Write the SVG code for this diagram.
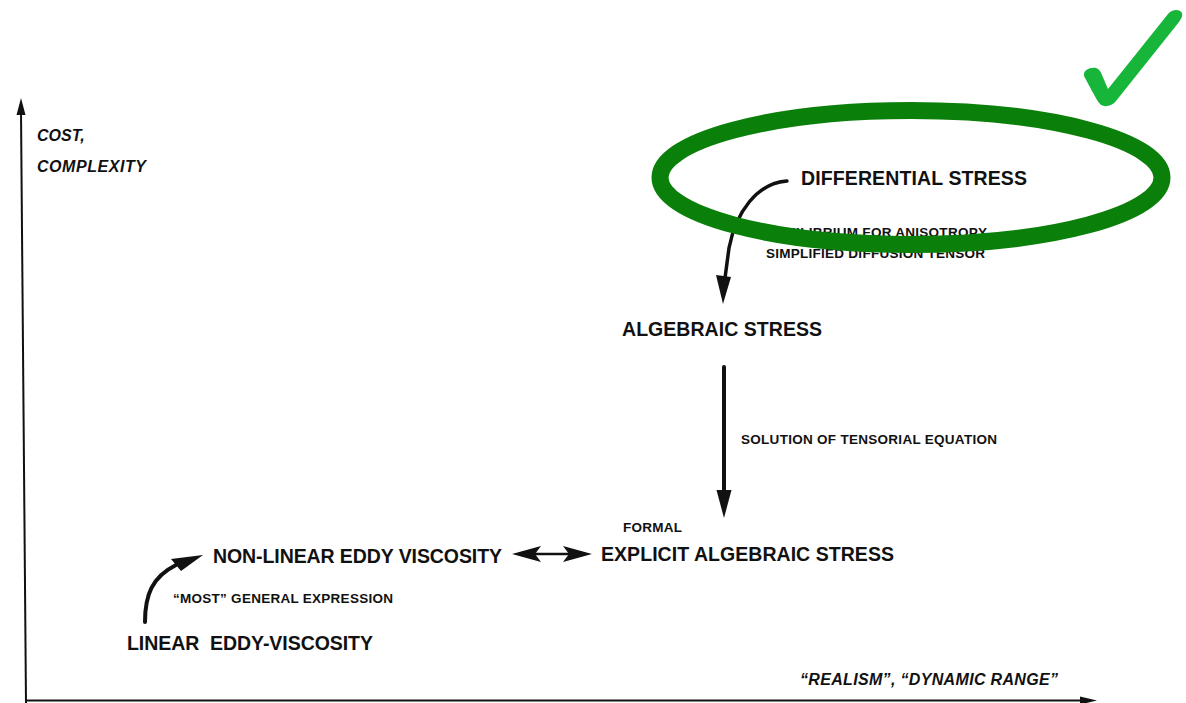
<svg xmlns="http://www.w3.org/2000/svg" width="1186" height="703" viewBox="0 0 1186 703">
  <style>
    .node { font-family: "Liberation Sans", Arial, sans-serif; font-weight: bold; font-size: 19.5px; fill: #111; }
    .note { font-family: "Liberation Sans", Arial, sans-serif; font-weight: bold; font-size: 13.5px; fill: #111; }
    .axis-label { font-family: "Liberation Sans", Arial, sans-serif; font-weight: bold; font-style: italic; font-size: 16px; fill: #111; }
    .axis { stroke: #111; stroke-width: 2; fill: none; }
    .conn { stroke: #111; fill: none; stroke-linecap: round; }
    .head { fill: #111; }
  </style>

  <rect width="1186" height="703" fill="#fff"/>

  <!-- axes -->
  <g id="axes">
    <line class="axis" x1="26" y1="703" x2="21" y2="112"/>
    <polygon class="head" points="21,98 16.5,115 25.5,115"/>
    <line class="axis" x1="26" y1="700.5" x2="1082" y2="700.5"/>
    <polygon class="head" points="1097,700.5 1080,696.5 1080,704.5"/>
    <text class="axis-label" x="37" y="141">COST,</text>
    <text class="axis-label" x="37" y="172" textLength="109">COMPLEXITY</text>
    <text class="axis-label" x="800" y="685" textLength="258">“REALISM”, “DYNAMIC RANGE”</text>
  </g>

  <!-- model nodes -->
  <g id="differential-stress">
    <text class="node" x="801" y="185" textLength="226">DIFFERENTIAL STRESS</text>
  </g>
  <g id="algebraic-stress">
    <text class="node" x="622" y="336" textLength="200">ALGEBRAIC STRESS</text>
  </g>
  <g id="explicit-algebraic-stress">
    <text class="node" x="601" y="561" textLength="293">EXPLICIT ALGEBRAIC STRESS</text>
  </g>
  <g id="non-linear-eddy-viscosity">
    <text class="node" x="213" y="563" textLength="289">NON-LINEAR EDDY VISCOSITY</text>
  </g>
  <g id="linear-eddy-viscosity">
    <text class="node" x="127" y="650" textLength="246">LINEAR&#160; EDDY-VISCOSITY</text>
  </g>

  <!-- transition notes -->
  <g id="notes">
    <text class="note" x="766" y="237" textLength="221">EQUILIBRIUM FOR ANISOTROPY</text>
    <text class="note" x="766" y="258" textLength="219">SIMPLIFIED DIFFUSION TENSOR</text>
    <text class="note" x="741" y="444" textLength="256">SOLUTION OF TENSORIAL EQUATION</text>
    <text class="note" x="623" y="532" textLength="59">FORMAL</text>
    <text class="note" x="173" y="603" textLength="220">“MOST” GENERAL EXPRESSION</text>
  </g>

  <!-- connectors -->
  <g id="connectors">
    <!-- differential -> algebraic -->
    <path class="conn" stroke-width="3.5" d="M787,181 C757,183 736,212 729,248 L725,278"/>
    <polygon class="head" points="723,304 716,275 731,277"/>
    <!-- algebraic -> explicit -->
    <line class="conn" stroke-width="4" stroke-linecap="butt" x1="724" y1="367" x2="724" y2="494"/>
    <polygon class="head" points="716.5,490 731.5,490 724,518"/>
    <!-- non-linear <-> explicit -->
    <line class="conn" stroke-width="2.5" x1="532" y1="554" x2="572" y2="554"/>
    <polygon class="head" points="512,554 541,546 535,554 541,562"/>
    <polygon class="head" points="592,554 563,546 569,554 563,562"/>
    <!-- linear -> non-linear -->
    <path class="conn" stroke-width="4" d="M145,622 C145,595 152,577 176,565"/>
    <polygon class="head" points="203,555 171,559 181,571"/>
  </g>

  <!-- highlight marks -->
  <g id="highlight">
    <ellipse cx="911" cy="177.5" rx="251" ry="67" fill="none" stroke="#0a7f0a" stroke-width="17"/>
    <path fill="#17b63b" d="M1084,76 C1083,70 1090,67 1096,68 C1099,69 1101,72 1102,75 L1108,89 L1168,14 C1172,9 1180,9 1182,13 C1183,16 1181,19 1179,22 L1116,101 C1112,106 1104,108 1100,104 C1097,101 1095,96 1092,91 Z"/>
  </g>
</svg>
